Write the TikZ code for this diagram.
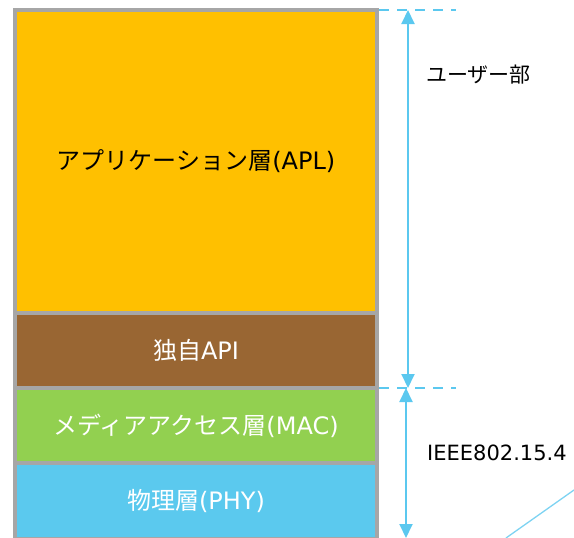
\documentclass[tikz,border=0pt]{standalone}
\usepackage{fontspec}
\setmainfont{DejaVu Sans}
\newfontfamily\jp{Noto Sans CJK JP}
\usetikzlibrary{arrows.meta}
\definecolor{cyel}{HTML}{FFC000}
\definecolor{cbrown}{HTML}{996633}
\definecolor{cgreen}{HTML}{92D050}
\definecolor{cblue}{HTML}{5BC9EE}
\definecolor{cgray}{HTML}{A6A6A6}
\definecolor{carrow}{HTML}{5BC8EF}
\definecolor{cdiag}{HTML}{7DD3F2}
\begin{document}
\begin{tikzpicture}[x=1pt,y=-1pt,
  layer/.style={draw=cgray,line width=4pt,minimum width=362pt,inner sep=0pt,outer sep=0pt,
    font=\fontsize{24}{24}\selectfont,text=white},
  dim/.style={draw=carrow,line width=2pt,{Triangle[width=13pt,length=14pt]}-{Triangle[width=13pt,length=14pt]}},
  guide/.style={draw=carrow,line width=2pt,dash pattern=on 10pt off 8pt},
  side/.style={anchor=west,inner sep=0pt,font=\fontsize{21}{21}\selectfont,text=black}]
\useasboundingbox (0,0) rectangle (574,538);
\begin{scope}
\clip (0,0) rectangle (574,538);
\node[layer,fill=cyel,minimum height=303pt,text=black] (apl) at (196,161.5) {{\jp アプリケーション層}(APL)};
\node[layer,fill=cbrown,minimum height=75pt] (api) at (196,350.5) {{\jp 独自}API};
\node[layer,fill=cgreen,minimum height=75pt] (mac) at (196,425.5) {{\jp メディアアクセス層}(MAC)};
\node[layer,fill=cblue,minimum height=76pt] (phy) at (196,501) {{\jp 物理層}(PHY)};
\coordinate (t1) at (408,10);
\coordinate (m1) at (408,388);
\coordinate (m2) at (406,388);
\coordinate (b2) at (406,538);
\coordinate (g1a) at (379,10);
\coordinate (g1b) at (456,10);
\coordinate (g2a) at (379,388);
\coordinate (g2b) at (456,388);
\draw[guide] (g1a) -- (g1b);
\draw[guide] (g2a) -- (g2b);
\draw[dim] (m1) -- (t1);
\draw[dim] (m2) -- (b2);
\coordinate (d1) at (506,538);
\coordinate (d2) at (574,490);
\draw[cdiag,line width=1.3pt] (d1) -- (d2);
\end{scope}
\node[side] (user) at (426,75) {\jp ユーザー部};
\node[side] (ieee) at (427,453) {IEEE802.15.4};
\end{tikzpicture}
\end{document}
